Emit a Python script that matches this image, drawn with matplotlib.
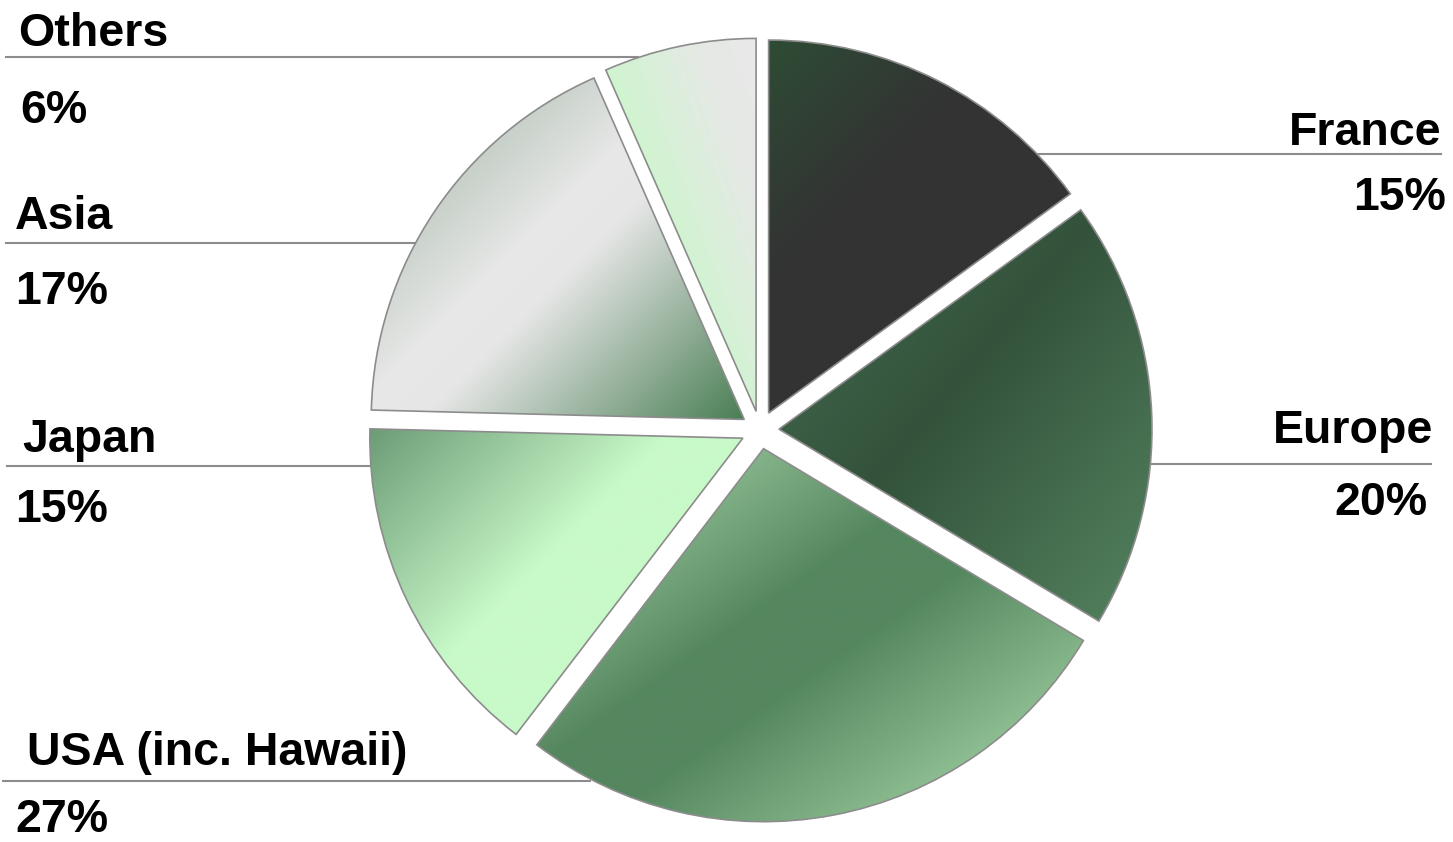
import matplotlib.pyplot as plt
import numpy as np
from matplotlib.colors import LinearSegmentedColormap

# data, clockwise from 12 o'clock
regions = ['France', 'Europe', 'USA (inc. Hawaii)', 'Japan', 'Asia', 'Others']
shares = [15.0, 18.6, 26.8, 15.0, 18.0, 6.6]
pct_labels = ['15%', '20%', '27%', '15%', '17%', '6%']

W, H = 1453, 842

# gradient per slice: direction (deg) and colour stops
fills = [
    (-45, [(0, '#2e4c35'), (0.35, '#333333'), (1, '#333333')]),
    (-40, [(0, '#486e53'), (0.45, '#33523b'), (1, '#54835f')]),
    (-55, [(0, '#b4e0b4'), (0.42, '#55875f'), (0.55, '#55875f'), (1, '#b4e4b4')]),
    (-45, [(0, '#6c9c76'), (0.45, '#c8f9c8'), (1, '#c8f9c8')]),
    (-45, [(0, '#98ae9c'), (0.45, '#e8e8e8'), (0.55, '#e6e6e6'), (1, '#4a7f55')]),
    (20, [(0, '#c8f8c8'), (0.45, '#d0f4d0'), (0.8, '#e6e9e6'), (1, '#e8e8e8')]),
]

# label layout in pixel coords (image y from top): name xy, pct xy, align, line x0, x1, line y
layout = [
    ((1441, 145), (1446, 210), 'right', 1035, 1441, 154),
    ((1433, 443), (1428, 515), 'right', 1148, 1431, 464),
    ((27, 765), (15, 832), 'left', 3, 590, 781),
    ((22, 452), (15, 522), 'left', 7, 372, 466),
    ((15, 229), (15, 304), 'left', 6, 415, 243),
    ((18, 46), (20, 123), 'left', 6, 638, 57),
]

fig = plt.figure(figsize=(W / 100, H / 100), dpi=100)
ax = fig.add_axes([0, 0, 1, 1])

wedges, _ = ax.pie(shares, startangle=90, counterclock=False,
                   radius=373, center=(760, H - 430), explode=[19] * len(shares),
                   wedgeprops=dict(facecolor='none', edgecolor='#8c8c8c',
                                   linewidth=1.2, zorder=3))

for w, (ang, stops) in zip(wedges, fills):
    ext = w.get_path().get_extents()
    x0, y0, x1, y1 = ext.x0, ext.y0, ext.x1, ext.y1
    gx, gy = np.meshgrid(np.linspace(x0, x1, 300), np.linspace(y0, y1, 300))
    d = np.array([np.cos(np.radians(ang)), np.sin(np.radians(ang))])
    proj = gx * d[0] + gy * d[1]
    t = (proj - proj.min()) / (proj.max() - proj.min())
    cmap = LinearSegmentedColormap.from_list('g', stops)
    im = ax.imshow(cmap(t), extent=(x0, x1, y0, y1), origin='lower',
                   interpolation='bilinear', zorder=1)
    im.set_clip_path(w)

for i in range(len(regions)):
    (nx, ny), (px, py), ha, lx0, lx1, ly = layout[i]
    ax.plot([lx0, lx1], [H - ly, H - ly], color='#8c8c8c', lw=1.5, zorder=0)
    ax.text(nx, H - ny, regions[i], ha=ha, va='baseline', fontsize=33.5,
            fontweight='bold', family='Liberation Sans', color='black')
    ax.text(px, H - py, pct_labels[i], ha=ha, va='baseline', fontsize=33.5,
            fontweight='bold', family='Liberation Sans', color='black')

ax.set_xlim(0, W)
ax.set_ylim(0, H)
ax.set_aspect('auto')
ax.axis('off')

fig.savefig('out.png', dpi=100, facecolor='white')
